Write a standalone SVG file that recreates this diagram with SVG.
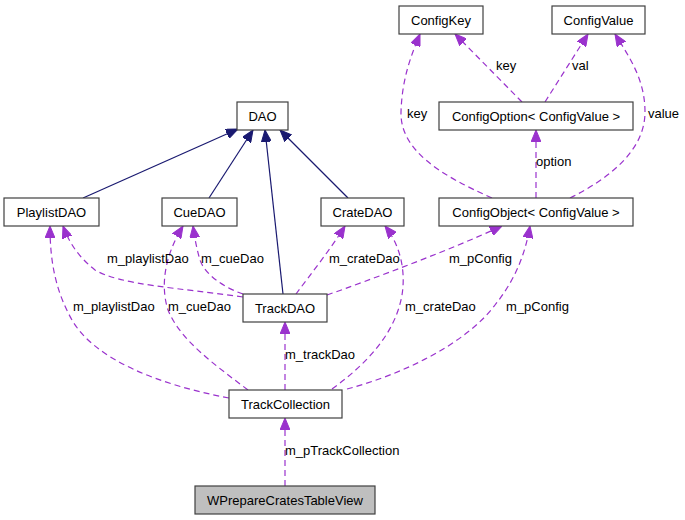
<svg xmlns="http://www.w3.org/2000/svg" width="685" height="520" viewBox="0 0 685 520">
<style>
text{font-family:"Liberation Sans",Arial,sans-serif;font-size:13px;fill:#000}
.node rect{fill:#fff;stroke:#404040;stroke-width:1.2}
.node text{text-anchor:middle}
.inh{fill:none;stroke:#191970;stroke-width:1.2}
.use{fill:none;stroke:#9a32cd;stroke-width:1.2;stroke-dasharray:6,4}
</style>
<defs>
<marker id="ah" viewBox="0 0 12 10" refX="12" refY="5" markerWidth="12" markerHeight="10" markerUnits="userSpaceOnUse" orient="auto">
<path d="M0,0 L12,5 L0,10 z" fill="#191970" stroke="#191970"/>
</marker>
<marker id="au" viewBox="0 0 12 10" refX="12" refY="5" markerWidth="12" markerHeight="10" markerUnits="userSpaceOnUse" orient="auto">
<path d="M0,0 L12,5 L0,10 z" fill="#9a32cd" stroke="#9a32cd"/>
</marker>
</defs>
<rect width="685" height="520" fill="#fff"/>
<g id="connectors">
<path class="inh" marker-end="url(#ah)" d="M83,198 L238,129"/>
<path class="inh" marker-end="url(#ah)" d="M209,198 L253,130"/>
<path class="inh" marker-end="url(#ah)" d="M283,294 L265,130"/>
<path class="inh" marker-end="url(#ah)" d="M348,198 L280,130"/>
<path class="use" marker-end="url(#au)" d="M522,102 L455,34"/>
<path class="use" marker-end="url(#au)" d="M545,102 L588,34"/>
<path class="use" marker-end="url(#au)" d="M492,198 C440,175 400,150 401,112 C402,80 410,58 420,34"/>
<path class="use" marker-end="url(#au)" d="M570,198 C610,178 645,150 645,112 C645,80 630,58 615,34"/>
<path class="use" marker-end="url(#au)" d="M536,198 L536,130"/>
<path class="use" marker-end="url(#au)" d="M243,297 C180,288 120,285 95,270 C80,258 70,245 63,226"/>
<path class="use" marker-end="url(#au)" d="M243,294 C225,288 205,275 200,260 C197,250 195,240 193,226"/>
<path class="use" marker-end="url(#au)" d="M296,294 C310,275 330,250 345,226"/>
<path class="use" marker-end="url(#au)" d="M327,295 C370,280 450,250 502,226"/>
<path class="use" marker-end="url(#au)" d="M229,398 C160,385 95,360 72,320 C55,290 50,260 50,226"/>
<path class="use" marker-end="url(#au)" d="M248,390 C215,365 180,340 168,310 C160,285 165,255 183,226"/>
<path class="use" marker-end="url(#au)" d="M285,390 L285,322"/>
<path class="use" marker-end="url(#au)" d="M332,389 C365,365 395,335 402,295 C406,270 400,245 385,226"/>
<path class="use" marker-end="url(#au)" d="M347,389 C400,375 465,345 495,305 C515,280 525,255 530,226"/>
<path class="use" marker-end="url(#au)" d="M285,486 L285,418"/>
<text x="496" y="70">key</text>
<text x="572" y="70">val</text>
<text x="407" y="118">key</text>
<text x="648" y="118">value</text>
<text x="536" y="166">option</text>
<text x="107" y="263">m_playlistDao</text>
<text x="201" y="263">m_cueDao</text>
<text x="329" y="263">m_crateDao</text>
<text x="449" y="263">m_pConfig</text>
<text x="73" y="311">m_playlistDao</text>
<text x="168" y="311">m_cueDao</text>
<text x="405" y="311">m_crateDao</text>
<text x="506" y="311">m_pConfig</text>
<text x="285" y="359">m_trackDao</text>
<text x="285" y="455">m_pTrackCollection</text>
</g>
<g id="ConfigKey" class="node"><rect x="399" y="6" width="84" height="28"/><text x="441" y="24.5">ConfigKey</text></g>
<g id="ConfigValue" class="node"><rect x="552" y="6" width="93" height="28"/><text x="598.5" y="24.5">ConfigValue</text></g>
<g id="ConfigOption" class="node"><rect x="439" y="102" width="194" height="28"/><text x="536" y="120.5">ConfigOption&lt; ConfigValue &gt;</text></g>
<g id="DAO" class="node"><rect x="237" y="102" width="51" height="28"/><text x="262.5" y="120.5">DAO</text></g>
<g id="PlaylistDAO" class="node"><rect x="4" y="198" width="95" height="28"/><text x="51.5" y="216.5">PlaylistDAO</text></g>
<g id="CueDAO" class="node"><rect x="162" y="198" width="75" height="28"/><text x="199.5" y="216.5">CueDAO</text></g>
<g id="CrateDAO" class="node"><rect x="321" y="198" width="83" height="28"/><text x="362.5" y="216.5">CrateDAO</text></g>
<g id="ConfigObject" class="node"><rect x="439" y="198" width="194" height="28"/><text x="536" y="216.5">ConfigObject&lt; ConfigValue &gt;</text></g>
<g id="TrackDAO" class="node"><rect x="243" y="294" width="84" height="28"/><text x="285" y="312.5">TrackDAO</text></g>
<g id="TrackCollection" class="node"><rect x="229" y="390" width="113" height="28"/><text x="285.5" y="408.5">TrackCollection</text></g>
<g id="WPrepareCratesTableView" class="node"><rect x="195" y="486" width="180" height="28" style="fill:#bfbfbf"/><text x="285" y="504.5">WPrepareCratesTableView</text></g>
</svg>
